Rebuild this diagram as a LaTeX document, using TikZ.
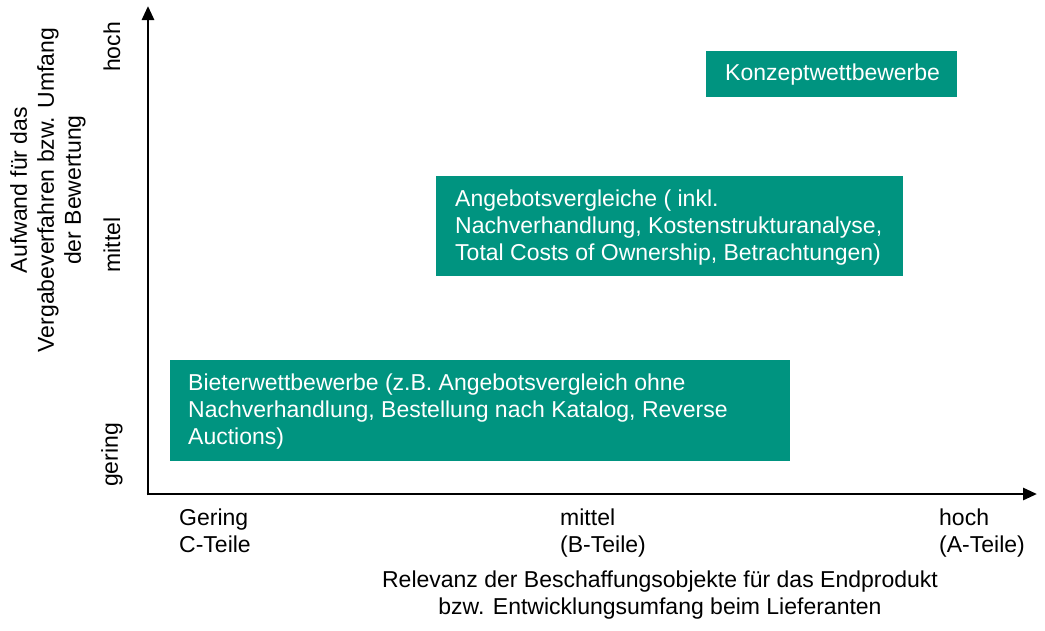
\documentclass[tikz,border=0pt]{standalone}
\usepackage{fontspec}
\setmainfont{Liberation Sans}
\usetikzlibrary{arrows.meta}
\definecolor{teal1}{RGB}{0,148,128}
\begin{document}
\begin{tikzpicture}[x=1pt,y=-1pt,
  lbl/.style={font=\fontsize{23}{27}\selectfont,inner sep=0pt},
  boxtext/.style={lbl,text=white,align=left,anchor=west},
  axis/.style={line width=2.8pt,-{Triangle[length=14pt,width=12pt]}}]
\useasboundingbox (0,0) rectangle (1045,630);
% Axes
\coordinate (o) at (148,494);
\coordinate (ytip) at (148,6);
\coordinate (xtip) at (1037,494);
\draw[axis] ([yshift=-1.4pt]o) -- (ytip);
\draw[axis] ([xshift=-1.4pt]o) -- (xtip);
% Boxes
\fill[teal1] (706,51) rectangle (957,97);
\node[boxtext] (k) at (725,75) {Konzeptwettbewerbe};
\fill[teal1] (436,176) rectangle (903,276);
\node[boxtext] (a) at (455,228) {Angebotsvergleiche ( inkl.\\Nachverhandlung, Kostenstrukturanalyse,\\Total Costs of Ownership, Betrachtungen)};
\fill[teal1] (170,360) rectangle (790,461);
\node[boxtext] (b) at (188,412) {Bieterwettbewerbe (z.B. Angebotsvergleich ohne\\Nachverhandlung, Bestellung nach Katalog, Reverse\\Auctions)};
% Y axis labels
\node[lbl,rotate=90] (yh) at (112,47) {hoch};
\node[lbl,rotate=90] (ym) at (112,245) {mittel};
\node[lbl,rotate=90] (yg) at (112,455) {gering};
\node[lbl,rotate=90,align=center] (yt) at (48,190) {Aufwand für das\\Vergabeverfahren bzw. Umfang\\der Bewertung};
% X axis labels
\node[lbl,align=left,anchor=north west] (xg) at (179,509) {Gering\\C-Teile};
\node[lbl,align=left,anchor=north west] (xm) at (560,509) {mittel\\(B-Teile)};
\node[lbl,align=left,anchor=north west] (xh) at (939,509) {hoch\\(A-Teile)};
\node[lbl,align=center] (xt) at (660,595) {Relevanz der Beschaffungsobjekte für das Endprodukt\\bzw. Entwicklungsumfang beim Lieferanten};
\end{tikzpicture}
\end{document}
